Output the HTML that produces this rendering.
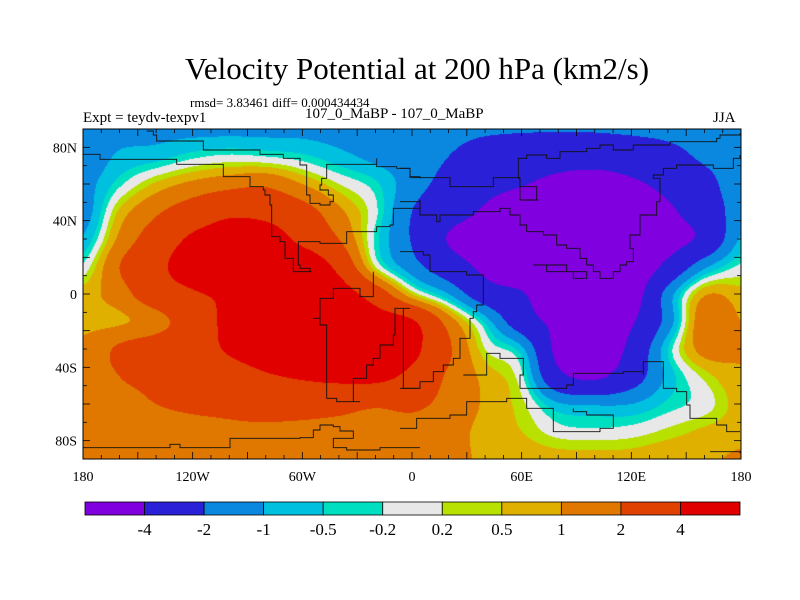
<!DOCTYPE html>
<html><head><meta charset="utf-8">
<style>
body{margin:0;background:#fff;width:800px;height:600px;overflow:hidden;position:relative;font-family:"Liberation Serif",serif;}
.t{position:absolute;white-space:nowrap;color:#000;}
</style></head>
<body>
<div class="t" style="left:0;width:834px;text-align:center;top:51px;font-size:31px;">Velocity Potential at 200 hPa (km2/s)</div>
<div class="t" style="left:190px;top:95px;font-size:13px;">rmsd= 3.83461 diff= 0.000434434</div>
<div class="t" style="left:83px;top:110px;font-size:15px;">Expt = teydv-texpv1</div>
<div class="t" style="left:305px;top:106px;font-size:15px;">107_0_MaBP - 107_0_MaBP</div>
<div class="t" style="left:713px;top:110px;font-size:15px;">JJA</div>
<canvas id="map" width="658" height="330" style="position:absolute;left:83px;top:129px;"></canvas>
<svg id="ov" width="800" height="600" style="position:absolute;left:0;top:0;"></svg>
<script>
const lons=[-180,-160,-140,-120,-100,-80,-60,-40,-20,0,20,40,60,80,100,120,140,160,180];
const lats=[90,75,60,45,30,15,0,-15,-30,-45,-60,-75,-90];
const row90=[-1.2,-1.2,-1.2,-1.2,-1.2,-1.2,-1.2,-1.3,-1.4,-1.5,-1.6,-1.8,-1.9,-1.9,-1.9,-1.8,-1.7,-1.5,-1.2];
const row75=[-1.5,-0.9,-0.7,-0.3,-0.1,-0.2,-0.4,-0.8,-1.2,-1.5,-2.0,-2.8,-3.0,-3.2,-3.2,-3.0,-2.5,-1.8,-1.5];
const row60=[-1.3,-0.3,0.6,1.2,1.6,1.8,1.0,0.2,-0.4,-1.5,-2.5,-3.5,-3.9,-4.5,-4.8,-4.3,-3.5,-2.5,-1.3];
const row45=[-1.4,0.6,1.8,2.8,3.6,3.4,2.6,1.2,-0.1,-2.0,-3.2,-4.2,-5.0,-5.5,-5.5,-5.2,-4.3,-3.0,-1.4];
const row30=[-0.9,1.2,2.8,4.3,5.0,5.0,3.5,2.0,-0.3,-2.1,-4.1,-5.0,-6.0,-6.0,-6.0,-6.0,-4.8,-3.5,-0.9];
const row15=[-0.1,2.0,3.5,5.0,6.0,6.0,5.5,3.5,0.2,-1.5,-3.0,-4.5,-6.0,-6.0,-6.0,-5.5,-3.5,-1.2,-0.1];
const row0=[0.7,1.5,3.0,3.8,4.5,6.0,6.0,5.0,3.0,0.5,-1.0,-3.0,-3.8,-6.0,-6.0,-5.0,-1.5,0.9,0.7];
const rowS15=[0.8,0.9,1.5,3.0,4.5,6.0,6.0,6.0,5.0,4.2,1.5,-0.6,-3.0,-4.5,-5.0,-4.2,-1.5,1.6,1.0];
const rowS30=[1.2,2.2,2.8,3.2,4.2,5.0,5.5,6.0,5.5,4.5,2.2,0.2,-0.8,-4.5,-5.5,-3.5,-0.5,1.3,1.1];
const rowS45=[1.4,2.0,2.3,2.8,3.2,3.8,4.2,4.5,4.5,3.5,1.8,0.8,-0.1,-3.5,-4.3,-2.8,-0.8,0.3,0.9];
const rowS60=[1.5,1.7,2.0,2.2,2.3,2.5,2.6,2.5,2.2,2.3,1.6,0.9,0.3,-0.9,-1.1,-1.0,-0.4,0.0,0.7];
const rowS75=[1.5,1.5,1.6,1.7,1.8,1.8,1.7,1.6,1.5,1.5,1.3,0.8,0.5,0.0,-0.1,0.0,0.3,0.6,0.8];
const rowS90=[1.3,1.3,1.3,1.3,1.3,1.3,1.3,1.3,1.3,1.3,1.2,0.9,0.8,0.7,0.7,0.7,0.9,0.9,1.1];
const grid=[row90,row75,row60,row45,row30,row15,row0,rowS15,rowS30,rowS45,rowS60,rowS75,rowS90];
const levels=[-4,-2,-1,-0.5,-0.2,0.2,0.5,1,2,4];
const levelLabels=["-4","-2","-1","-0.5","-0.2","0.2","0.5","1","2","4"];
const colors=["#8000e0","#2a20d8","#0a88e0","#00c0e0","#00e0c0","#e8e8e8","#b8e000","#e0b000","#e07800","#e04000","#e00000"];
const xTicks=[-180,-120,-60,0,60,120,180];
const xTickLabels=["180","120W","60W","0","60E","120E","180"];
const yTicks=[80,40,0,-40,-80];
const yTickLabels=["80N","40N","0","40S","80S"];

const X0=83,X1=741,Y0=129,Y1=459;
const xs=lon=>X0+(lon+180)/360*(X1-X0);
const ys=lat=>Y0+(90-lat)/180*(Y1-Y0);

function cr(p0,p1,p2,p3,t){return 0.5*((2*p1)+(-p0+p2)*t+(2*p0-5*p1+4*p2-p3)*t*t+(-p0+3*p1-3*p2+p3)*t*t*t);}
function g(r,c){r=Math.max(0,Math.min(grid.length-1,r));
 const n=lons.length-1; if(c<0)c=0; if(c>n)c=n; return grid[r][c];}
function field(lon,lat){
 const fc=(lon-lons[0])/20, fr=(lats[0]-lat)/15;
 const c=Math.min(Math.floor(fc),lons.length-2), r=Math.min(Math.floor(fr),lats.length-2);
 const tc=fc-c, tr=fr-r; const rv=[];
 for(let i=-1;i<=2;i++){rv.push(cr(g(r+i,c-1),g(r+i,c),g(r+i,c+1),g(r+i,c+2),tc));}
 return cr(rv[0],rv[1],rv[2],rv[3],tr);}
function rgb(h){return [parseInt(h.substr(1,2),16),parseInt(h.substr(3,2),16),parseInt(h.substr(5,2),16)];}
const cv=document.getElementById('map');


const ctx=cv.getContext('2d');const W=cv.width,H=cv.height;
const img=ctx.createImageData(W,H);const crgb=colors.map(rgb);
for(let y=0;y<H;y++)for(let x=0;x<W;x++){
 const lon=-180+(x+0.5)/W*360, lat=90-(y+0.5)/H*180;
 const v=field(lon,lat); let k=0; while(k<levels.length&&v>=levels[k])k++;
 const i=(y*W+x)*4; const c=crgb[k]; img.data[i]=c[0];img.data[i+1]=c[1];img.data[i+2]=c[2];img.data[i+3]=255;}
ctx.putImageData(img,0,0);

const NS='http://www.w3.org/2000/svg';const ov=document.getElementById('ov');
function mk(t,a,p){const e=document.createElementNS(NS,t);for(const k in a)e.setAttribute(k,a[k]);(p||ov).appendChild(e);return e;}
const coastsW=[
 [[8,88],[60,88],[60,103],[290,103],[290,118],[330,118],[430,140],[430,155],[510,185],[550,195],[555,210],[570,240],[575,335],[600,350],[615,400],[640,440],[695,440],[690,430],[660,420],[655,350],[680,350],[720,355],[780,355],[800,320],[890,305],[930,300],[940,250],[1020,225]],
 [[200,18],[220,30],[230,48],[370,60],[370,75],[530,75],[540,88],[600,88],[610,100],[660,120],[680,210],[690,235],[720,240],[750,230],[760,210],[745,195],[720,180],[725,160],[740,150],[740,118],[890,100],[890,125],[950,130],[990,155],[1020,160]],
 [[880,440],[880,515],[860,515],[840,490],[760,490],[760,520],[720,520],[720,580],[700,580],[720,600],[740,640],[740,820],[770,830],[840,830],[820,760],[860,720],[880,700],[900,660],[940,630],[945,550],[990,550],[970,560],[970,790],[1020,790]],
 [[8,968],[270,968],[270,958],[300,958],[300,968],[440,968],[450,940],[660,938],[700,915],[720,900],[760,905],[780,918],[820,925],[820,940],[760,945],[760,968],[800,975],[880,975],[900,968],[1020,968]]
];
const coastsE=[
 [[0,130],[30,130],[30,158],[150,158],[150,185],[280,158],[340,158],[360,225],[415,225],[410,185],[360,160],[355,100],[380,90],[440,88],[440,100],[460,100],[480,80],[560,70],[600,60],[640,75],[700,60],[800,60],[810,50],[950,40],[960,30],[1020,25]],
 [[0,230],[60,230],[60,270],[110,290],[120,270],[170,270],[220,260],[240,260],[300,250],[330,270],[360,300],[380,320],[430,330],[470,360],[500,370],[540,400],[560,420],[580,440],[600,460],[640,440],[660,420],[680,410],[700,370],[690,330],[720,270],[770,230],[780,160],[760,150],[790,130],[830,120],[900,120],[940,130],[1000,100],[1020,90]],
 [[400,420],[500,440],[560,460],[520,440],[440,420],[400,420]],
 [[0,380],[70,390],[90,440],[200,450],[250,450],[250,540],[230,560],[220,580],[210,640],[180,660],[180,700],[160,720],[130,740],[100,770],[60,790],[0,790]],
 [[190,750],[260,685],[300,700],[370,750],[360,790],[420,790],[500,780],[520,745],[670,740],[730,750],[730,710],[780,710],[790,790],[830,800],[860,840],[870,880],[950,900],[980,920],[1020,920]],
 [[0,910],[50,880],[150,870],[200,830],[320,820],[370,820],[380,850],[460,850],[460,920],[540,920],[600,910],[640,900],[640,870],[560,860],[520,850]],
 [[930,980],[1020,985]]
];
function drawCoast(list,ox,oy){list.forEach(pl=>{
 let d='';pl.forEach((p,j)=>{const x=(p[0]/3+ox),y=(p[1]/3+oy);
  if(j===0)d+='M'+x.toFixed(1)+' '+y.toFixed(1);else{d+='H'+x.toFixed(1)+'V'+y.toFixed(1);}});
 const e=mk('path',{d:d,fill:'none',stroke:'#111','stroke-width':0.9});
 
 });}
drawCoast(coastsW,80,125);drawCoast(coastsE,400,125);
const fr=mk('rect',{x:X0,y:Y0,width:X1-X0,height:Y1-Y0,fill:'none',stroke:'#000','stroke-width':1});


for(let lon=-180;lon<=180;lon+=10){const L=lon%30===0?7:4;const x=xs(lon);
 mk('line',{x1:x,x2:x,y1:Y1,y2:Y1-L,stroke:'#000','stroke-width':0.8});
 mk('line',{x1:x,x2:x,y1:Y0,y2:Y0+L,stroke:'#000','stroke-width':0.8});}
for(let lat=-90;lat<=90;lat+=10){const L=lat%20===0?7:4;const y=ys(lat);
 mk('line',{x1:X0,x2:X0+L,y1:y,y2:y,stroke:'#000','stroke-width':0.8});
 mk('line',{x1:X1,x2:X1-L,y1:y,y2:y,stroke:'#000','stroke-width':0.8});}
xTicks.forEach((v,i)=>{const t=mk('text',{x:xs(v),y:481,'text-anchor':'middle','font-size':14,'font-family':'Liberation Serif, serif'});
 t.textContent=xTickLabels[i];
 
 });
yTicks.forEach((v,i)=>{const t=mk('text',{x:77,y:ys(v)+5,'text-anchor':'end','font-size':14,'font-family':'Liberation Serif, serif'});
 t.textContent=yTickLabels[i];
 
 });
const CB0=85,CB1=740,CBy=502,CBh=13,bw=(CB1-CB0)/colors.length;
colors.forEach((c,i)=>{const r=mk('rect',{x:CB0+i*bw,y:CBy,width:bw,height:CBh,fill:c,stroke:'#000','stroke-width':0.8});
 
 });
levelLabels.forEach((s,i)=>{const t=mk('text',{x:CB0+(i+1)*bw,y:535,'text-anchor':'middle','font-size':17,'font-family':'Liberation Serif, serif'});
 t.textContent=s;
 
 });
</script>
</body></html>
